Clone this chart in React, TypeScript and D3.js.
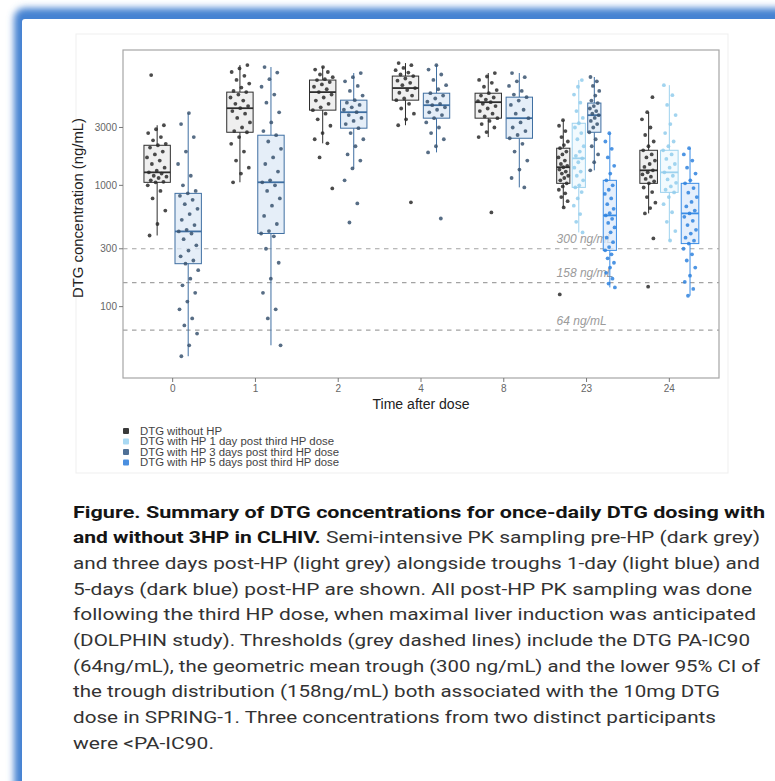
import React from "react";
import * as d3 from "d3";

// Sampling times (hours after dose) and the groups sampled at each
const times = ["0", "1", "2", "4", "8", "23", "24"];
const groupKeys = ["none", "d1", "d3", "d5"];
const groupLabels = [
  "DTG without HP",
  "DTG with HP 1 day post third HP dose",
  "DTG with HP 3 days post third HP dose",
  "DTG with HP 5 days post third HP dose",
];
const groupsAtTime = [
  ["none", "d3"],
  ["none", "d3"],
  ["none", "d3"],
  ["none", "d3"],
  ["none", "d3"],
  ["none", "d1", "d3", "d5"],
  ["none", "d1", "d5"],
];

// Box summaries: [lower whisker, Q1, median, Q3, upper whisker] in ng/mL
const stats0None = [386, 1059, 1280, 2140, 3130];
const stats0D3 = [39, 226, 417, 859, 3940];
const stats1None = [1060, 2740, 4325, 5870, 9810];
const stats1D3 = [48, 401, 1060, 2590, 9450];
const stats2None = [2220, 4170, 5870, 7380, 9450];
const stats2D3 = [1380, 2960, 4010, 5040, 8435];
const stats4None = [3130, 5040, 6340, 7960, 10190];
const stats4D3 = [1870, 3580, 4580, 5750, 9800];
const stats8None = [2500, 3580, 4850, 5750, 8435];
const stats8D3 = [962, 2445, 3580, 5335, 8435];
const stats23None = [658, 1039, 1410, 2024, 3444];
const stats23D1 = [409, 962, 1670, 3250, 7380];
const stats23D3 = [1330, 2740, 3790, 4770, 7820];
const stats23D5 = [144, 291, 565, 1100, 2690];
const stats24None = [587, 1039, 1330, 1946, 4008];
const stats24D1 = [351, 875, 1280, 1946, 6700];
const stats24D5 = [123, 331, 587, 1039, 2024];

// Individual DTG concentrations (ng/mL)
const conc0None = [8110, 3130, 2900, 2700, 2500, 2350, 2200, 2140, 2050, 1900, 1800, 1700, 1600, 1500, 1400, 1320, 1280, 1250, 1200, 1180, 1150, 1100, 1070, 1059, 1000, 900, 780, 620, 480, 386];
const conc0D3 = [3940, 3200, 2500, 1900, 1500, 1200, 1000, 900, 860, 820, 760, 700, 640, 580, 520, 470, 430, 417, 400, 360, 320, 290, 260, 240, 226, 200, 170, 150, 130, 110, 95, 80, 70, 60, 48, 39];
const conc1None = [9810, 9200, 8600, 8000, 7400, 6900, 6400, 6000, 5870, 5600, 5300, 5000, 4700, 4500, 4325, 4100, 3900, 3600, 3300, 3000, 2800, 2740, 2500, 2200, 1900, 1600, 1400, 1250, 1060];
const conc1D3 = [9450, 8500, 7500, 6500, 5600, 4800, 4000, 3300, 2800, 2590, 2300, 2000, 1700, 1500, 1300, 1100, 1060, 1000, 900, 780, 680, 560, 480, 420, 401, 380, 300, 230, 170, 130, 95, 80, 48];
const conc2None = [9450, 9000, 8600, 8200, 7800, 7500, 7380, 7100, 6800, 6500, 6200, 5870, 5600, 5300, 5000, 4700, 4400, 4170, 3900, 3500, 3100, 2700, 2400, 2220, 1700, 944];
const conc2D3 = [8435, 7800, 7200, 6600, 6000, 5500, 5040, 4800, 4600, 4400, 4200, 4010, 3800, 3600, 3400, 3200, 2960, 2700, 2400, 2100, 1800, 1600, 1380, 1100, 710, 494];
const conc4None = [10190, 9800, 9300, 8900, 8500, 8200, 7960, 7600, 7300, 7000, 6700, 6340, 6100, 5800, 5500, 5200, 5040, 4700, 4300, 3900, 3500, 3130, 724];
const conc4D3 = [9800, 9000, 8200, 7400, 6700, 6200, 5750, 5500, 5200, 4900, 4700, 4580, 4400, 4200, 4000, 3800, 3580, 3300, 3000, 2700, 2400, 2100, 1870, 533];
const conc8None = [8435, 7900, 7400, 7000, 6500, 6100, 5750, 5500, 5300, 5100, 4950, 4850, 4700, 4500, 4300, 4100, 3900, 3700, 3580, 3400, 3200, 3000, 2750, 2500, 598];
const conc8D3 = [8435, 7800, 7200, 6600, 6000, 5600, 5335, 5000, 4600, 4200, 3900, 3580, 3300, 3000, 2800, 2600, 2445, 2200, 1900, 1600, 1350, 1150, 962];
const conc23None = [3444, 3100, 2800, 2500, 2300, 2150, 2024, 1900, 1800, 1700, 1600, 1500, 1450, 1410, 1350, 1300, 1250, 1200, 1150, 1100, 1039, 980, 920, 860, 800, 740, 658, 126];
const conc23D1 = [7380, 6500, 5600, 4800, 4100, 3600, 3250, 3000, 2700, 2400, 2100, 1900, 1750, 1670, 1550, 1400, 1300, 1200, 1100, 1000, 962, 880, 780, 680, 580, 500, 409];
const conc23D3 = [7820, 7200, 6600, 6000, 5500, 5000, 4770, 4500, 4300, 4100, 3900, 3790, 3600, 3400, 3200, 3000, 2740, 2400, 2100, 1800, 1550, 1330];
const conc23D5 = [2690, 2300, 2000, 1700, 1450, 1250, 1100, 1000, 920, 850, 780, 700, 640, 590, 565, 530, 490, 450, 410, 370, 340, 310, 291, 270, 250, 230, 210, 190, 170, 155, 144];
const conc24None = [5335, 4008, 3500, 3000, 2600, 2300, 2100, 1946, 1800, 1700, 1600, 1500, 1420, 1330, 1280, 1230, 1180, 1130, 1080, 1039, 960, 880, 800, 720, 650, 587, 365, 146];
const conc24D1 = [6700, 5540, 4600, 3800, 3200, 2700, 2300, 2100, 1946, 1800, 1650, 1500, 1400, 1280, 1200, 1120, 1050, 980, 920, 875, 800, 700, 600, 500, 420, 351];
const conc24D5 = [2024, 1800, 1600, 1400, 1250, 1100, 1039, 950, 870, 800, 730, 670, 620, 587, 550, 510, 470, 430, 400, 370, 350, 331, 300, 270, 240, 210, 180, 160, 140, 123];

// Reference thresholds (ng/mL)
const thresholds = [300, 158, 64];
const thresholdLabels = ["300 ng/mL", "158 ng/mL", "64 ng/mL"];

const yTicks = [100, 300, 1000, 3000];

const captionBold = [
  "Figure. Summary of DTG concentrations for once-daily DTG dosing with",
  "and without 3HP in CLHIV.",
  "", "", "", "", "", "", "", "",
];
const captionPlain = [
  "",
  " Semi-intensive PK sampling pre-HP (dark grey)",
  "and three days post-HP (light grey) alongside troughs 1-day (light blue) and",
  "5-days (dark blue) post-HP are shown. All post-HP PK sampling was done",
  "following the third HP dose, when maximal liver induction was anticipated",
  "(DOLPHIN study). Thresholds (grey dashed lines) include the DTG PA-IC90",
  "(64ng/mL), the geometric mean trough (300 ng/mL) and the lower 95% CI of",
  "the trough distribution (158ng/mL) both associated with the 10mg DTG",
  "dose in SPRING-1. Three concentrations from two distinct participants",
  "were <PA-IC90.",
];
const captionWidths = [692, 687, 687, 679, 683, 677, 687, 647, 643, 141];

const series = [
  { time: "0", group: "none", stats: stats0None, values: conc0None },
  { time: "0", group: "d3", stats: stats0D3, values: conc0D3 },
  { time: "1", group: "none", stats: stats1None, values: conc1None },
  { time: "1", group: "d3", stats: stats1D3, values: conc1D3 },
  { time: "2", group: "none", stats: stats2None, values: conc2None },
  { time: "2", group: "d3", stats: stats2D3, values: conc2D3 },
  { time: "4", group: "none", stats: stats4None, values: conc4None },
  { time: "4", group: "d3", stats: stats4D3, values: conc4D3 },
  { time: "8", group: "none", stats: stats8None, values: conc8None },
  { time: "8", group: "d3", stats: stats8D3, values: conc8D3 },
  { time: "23", group: "none", stats: stats23None, values: conc23None },
  { time: "23", group: "d1", stats: stats23D1, values: conc23D1 },
  { time: "23", group: "d3", stats: stats23D3, values: conc23D3 },
  { time: "23", group: "d5", stats: stats23D5, values: conc23D5 },
  { time: "24", group: "none", stats: stats24None, values: conc24None },
  { time: "24", group: "d1", stats: stats24D1, values: conc24D1 },
  { time: "24", group: "d5", stats: stats24D5, values: conc24D5 },
];

const boxStroke: Record<string, string> = { none: "#2e2e2e", d1: "#9ed2ee", d3: "#3f6fa2", d5: "#3a8de6" };
const boxFill: Record<string, string> = { none: "#e9e9e9", d1: "#eef8fd", d3: "#dce8f5", d5: "#dceafb" };
const pointFill: Record<string, string> = { none: "#2b2b2b", d1: "#92cdec", d3: "#3a5370", d5: "#2f82de" };
const keyFill: Record<string, string> = { none: "#3a3a3a", d1: "#a9d9f3", d3: "#4f7096", d5: "#4a8fe0" };

const W = 775;
const H = 781;
const panel = { left: 123, right: 719, top: 50, bottom: 378 };

export default function App() {
  const x = d3.scalePoint<string>().domain(times).range([panel.left, panel.right]).padding(0.6);
  const y = d3.scaleLog().domain([25.8, 13060]).range([panel.bottom, panel.top]);
  const dodge = x.step() * 0.75;

  const placed = series.map((s) => {
    const members = groupsAtTime[times.indexOf(s.time)];
    const n = members.length;
    const j = members.indexOf(s.group);
    const slot = dodge / n;
    const cx = (x(s.time) as number) + (j - (n - 1) / 2) * slot;
    return { ...s, cx, bw: slot * 0.85 };
  });

  const jitter = (i: number, w: number) => ((((i * 0.61803398875 + 0.21) % 1) - 0.5) * w);

  const legendY = d3.scaleLinear().domain([0, 3]).range([431, 462.5]);
  const legendWidths = [82, 194, 199, 199];

  return (
    <div style={{ position: "absolute", left: 0, top: 0 }}>
      <svg width={W} height={H} viewBox={`0 0 ${W} ${H}`} style={{ display: "block" }}>
        <defs>
          <filter id="soft" filterUnits="userSpaceOnUse" x={0} y={0} width={W + 50} height={H + 50}>
            <feGaussianBlur stdDeviation={3.5} />
          </filter>
        </defs>
        <rect width={W} height={H} fill="#ffffff" />
        {/* card frame */}
        <rect x={14} y={8} width={W + 40} height={H + 40} rx={11} fill="#4482d2" filter="url(#soft)" />
        <rect x={22} y={19} width={W + 40} height={H + 40} rx={3} fill="#ffffff" />

        {/* faint plot background outline */}
        <rect x={76} y={34} width={652} height={439} fill="none" stroke="#efefef" strokeWidth={1} />

        {/* threshold lines and labels */}
        {thresholds.map((t, i) => (
          <g key={"thr" + i}>
            <line x1={panel.left} x2={panel.right} y1={y(t)} y2={y(t)} stroke="#a3a3a3" strokeWidth={1.2} strokeDasharray="4.5,4.5" />
            <text x={(x("23") as number) - 30} y={y(t * 1.2)} dy="0.35em" fontFamily="Liberation Sans, Arial, sans-serif" fontStyle="italic" fontSize={12} fill="#9b9b9b">
              {thresholdLabels[i]}
            </text>
          </g>
        ))}

        {/* boxes */}
        {placed.map((s, k) => {
          const [lo, q1, med, q3, hi] = s.stats;
          const x0 = s.cx - s.bw / 2;
          return (
            <g key={"box" + k} stroke={boxStroke[s.group]} strokeWidth={1}>
              <line x1={s.cx} x2={s.cx} y1={y(hi)} y2={y(q3)} />
              <line x1={s.cx} x2={s.cx} y1={y(q1)} y2={y(lo)} />
              <rect x={x0} y={y(q3)} width={s.bw} height={y(q1) - y(q3)} fill={boxFill[s.group]} fillOpacity={0.75} />
              <line x1={x0} x2={x0 + s.bw} y1={y(med)} y2={y(med)} strokeWidth={1.8} />
            </g>
          );
        })}

        {/* individual concentrations */}
        {placed.map((s, k) => (
          <g key={"pts" + k} fill={pointFill[s.group]} fillOpacity={0.85}>
            {s.values.map((v, i) => (
              <circle key={i} cx={s.cx + jitter(i + k * 7, s.bw * 0.78)} cy={y(v)} r={1.9} />
            ))}
          </g>
        ))}

        {/* panel border */}
        <rect x={panel.left} y={panel.top} width={panel.right - panel.left} height={panel.bottom - panel.top} fill="none" stroke="#a6a6a6" strokeWidth={1.2} />

        {/* y axis */}
        {yTicks.map((t) => (
          <g key={"yt" + t}>
            <line x1={panel.left - 4} x2={panel.left} y1={y(t)} y2={y(t)} stroke="#777" strokeWidth={1} />
            <text x={panel.left - 6} y={y(t)} dy="0.35em" textAnchor="end" fontFamily="Liberation Sans, Arial, sans-serif" fontSize={10} fill="#666">
              {t}
            </text>
          </g>
        ))}
        <text transform={`translate(83,208) rotate(-90)`} textAnchor="middle" fontFamily="Liberation Sans, Arial, sans-serif" fontSize={14} fill="#222" textLength={180} lengthAdjust="spacingAndGlyphs">
          DTG concentration (ng/mL)
        </text>

        {/* x axis */}
        {times.map((t) => (
          <g key={"xt" + t}>
            <line x1={x(t)} x2={x(t)} y1={panel.bottom} y2={panel.bottom + 4} stroke="#777" strokeWidth={1} />
            <text x={x(t)} y={panel.bottom + 14} textAnchor="middle" fontFamily="Liberation Sans, Arial, sans-serif" fontSize={10} fill="#666">
              {t}
            </text>
          </g>
        ))}
        <text x={421} y={409} textAnchor="middle" fontFamily="Liberation Sans, Arial, sans-serif" fontSize={14} fill="#222" textLength={97} lengthAdjust="spacingAndGlyphs">
          Time after dose
        </text>

        {/* legend */}
        {groupKeys.map((g, i) => (
          <g key={"lg" + g}>
            <rect x={123} y={legendY(i) - 3} width={6} height={6} rx={1} fill={keyFill[g]} />
            <text x={140} y={legendY(i)} dy="0.35em" fontFamily="Liberation Sans, Arial, sans-serif" fontSize={10} fill="#444" textLength={legendWidths[i]} lengthAdjust="spacingAndGlyphs">
              {groupLabels[i]}
            </text>
          </g>
        ))}

        {/* caption */}
        {captionPlain.map((line, i) => (
          <text key={"cap" + i} x={73} y={517.5 + i * 25.7} fontFamily="Roboto, Liberation Sans, sans-serif" fontSize={17} fill="#333" textLength={captionWidths[i]} lengthAdjust="spacingAndGlyphs">
            {captionBold[i] ? <tspan fontWeight="bold" fill="#151515">{captionBold[i]}</tspan> : null}
            {line ? <tspan>{line}</tspan> : null}
          </text>
        ))}
      </svg>
    </div>
  );
}
